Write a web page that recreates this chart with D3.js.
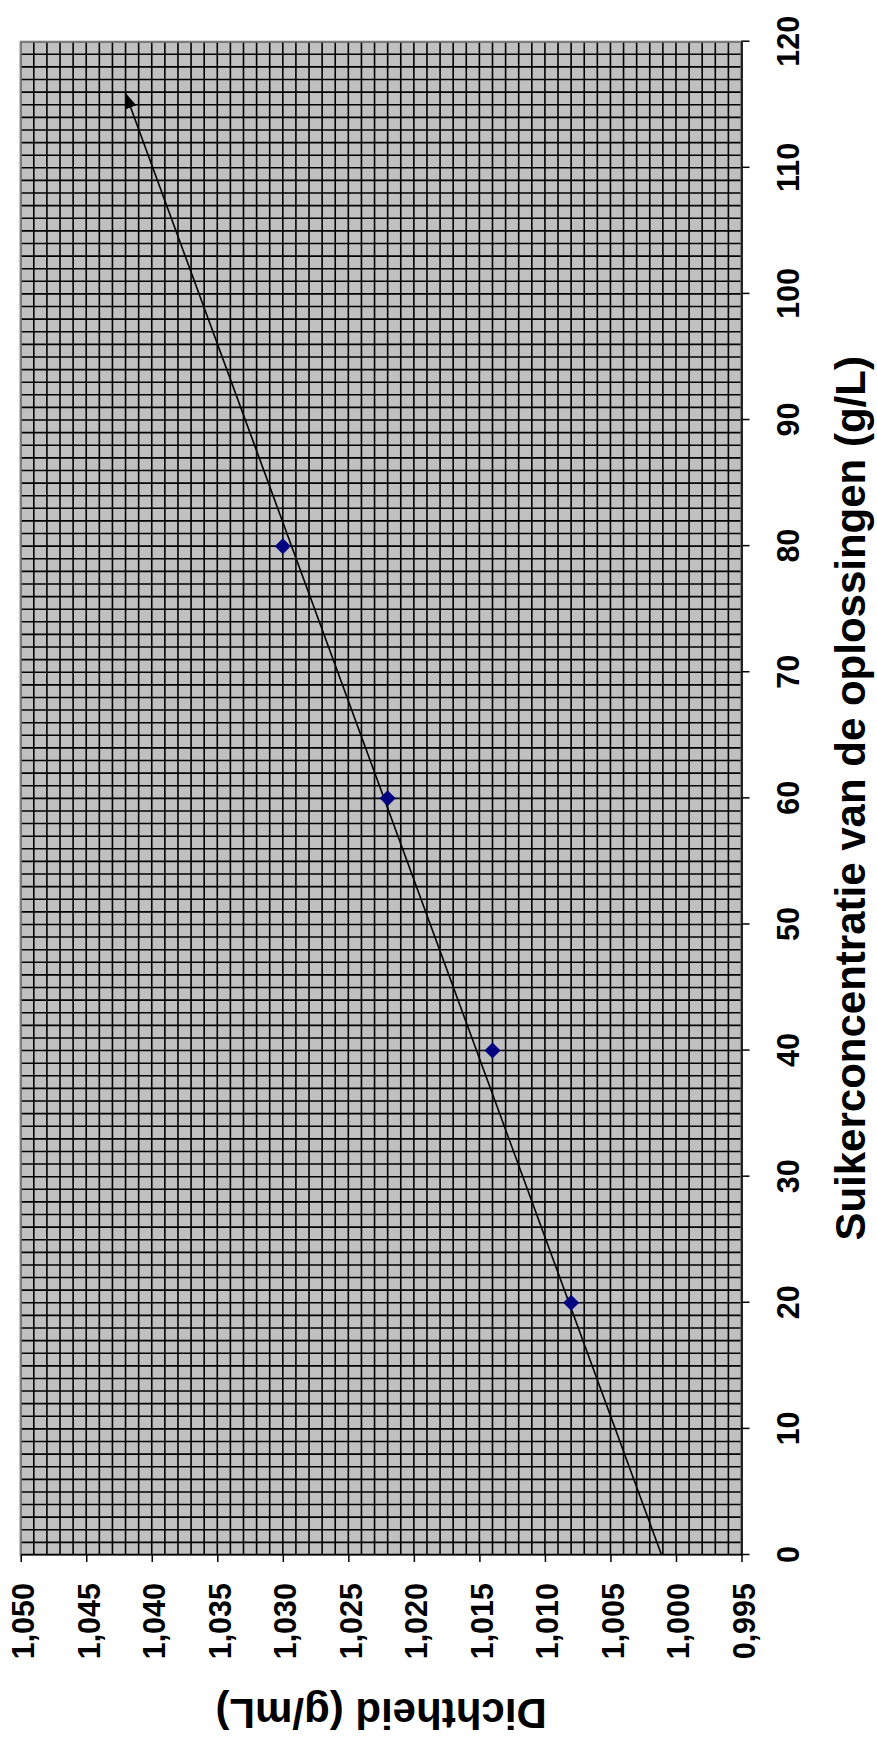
<!DOCTYPE html>
<html>
<head>
<meta charset="utf-8">
<script src="https://cdn.jsdelivr.net/npm/d3@7"></script>
<style>
  html, body { margin: 0; padding: 0; background: #ffffff; }
  svg { display: block; }
  text { font-family: "Liberation Sans", Arial, sans-serif; font-weight: bold; fill: #000; }
</style>
</head>
<body>
<script>
// ---- data ----
const concentration = [20, 40, 60, 80];               // g/L
const density = [1.008, 1.014, 1.022, 1.030];          // g/mL
const trendX = [0, 115.9];                             // hand-drawn trend line ends (g/L)
const trendY = [1.0011, 1.0420];                       // (g/mL)
const xTicks = [0, 10, 20, 30, 40, 50, 60, 70, 80, 90, 100, 110, 120];
const yTicks = [0.995, 1.000, 1.005, 1.010, 1.015, 1.020, 1.025, 1.030, 1.035, 1.040, 1.045, 1.050];
const xTitle = "Suikerconcentratie van de oplossingen (g/L)";
const yTitle = "Dichtheid (g/mL)";

// ---- layout (chart drawn in unrotated frame, then rotated -90deg) ----
const SW = 877, SH = 1744;          // screen size
const plot = { left: 189, right: 1702.3, top: 20.7, bottom: 741.5 };

const svg = d3.select("body").append("svg")
  .attr("width", SW).attr("height", SH);
svg.append("rect").attr("width", SW).attr("height", SH).attr("fill", "#ffffff");

const g = svg.append("g").attr("transform", `translate(0,${SH}) rotate(-90)`);

const x = d3.scaleLinear().domain([0, 120]).range([plot.left, plot.right]);
const y = d3.scaleLinear().domain([0.995, 1.050]).range([plot.bottom, plot.top]);

// plot background
g.append("rect")
  .attr("x", plot.left).attr("y", plot.top)
  .attr("width", plot.right - plot.left).attr("height", plot.bottom - plot.top)
  .attr("fill", "#c0c0c0");

// minor gridlines
const xGrid = d3.range(0, 121, 1);
const yGrid = d3.range(0, 56, 1).map(i => 0.995 + i * 0.001);
g.append("g").selectAll("line").data(xGrid).join("line")
  .attr("x1", d => x(d)).attr("x2", d => x(d))
  .attr("y1", plot.top).attr("y2", plot.bottom)
  .attr("stroke", "#000").attr("stroke-width", 1.6);
g.append("g").selectAll("line").data(yGrid).join("line")
  .attr("x1", plot.left).attr("x2", plot.right)
  .attr("y1", d => y(d)).attr("y2", d => y(d))
  .attr("stroke", "#000").attr("stroke-width", 1.6);

// plot border
g.append("rect")
  .attr("x", plot.left).attr("y", plot.top)
  .attr("width", plot.right - plot.left).attr("height", plot.bottom - plot.top)
  .attr("fill", "none").attr("stroke", "#808080").attr("stroke-width", 2);

// axes
const fmt = d => d3.format(".3f")(d).replace(".", ",");
const xAxis = g.append("g").attr("transform", `translate(0,${plot.bottom})`)
  .call(d3.axisBottom(x).tickValues(xTicks).tickSize(8).tickSizeOuter(0).tickPadding(28).tickFormat(d3.format("d")));
const yAxis = g.append("g").attr("transform", `translate(${plot.left},0)`)
  .call(d3.axisLeft(y).tickValues(yTicks).tickSize(7).tickSizeOuter(0).tickPadding(21).tickFormat(fmt));
[xAxis, yAxis].forEach(a => {
  a.select(".domain").attr("stroke", "#000").attr("stroke-width", 1.5);
  a.selectAll(".tick line").attr("stroke", "#000").attr("stroke-width", 1.5);
  a.selectAll("text").attr("font-size", 30.5).attr("font-weight", "bold")
    .attr("font-family", "Liberation Sans, Arial, sans-serif").attr("fill", "#000");
});
yAxis.selectAll("text").attr("dy", "0.42em");

// titles
g.append("text")
  .attr("x", (plot.left + plot.right) / 2).attr("y", 865)
  .attr("text-anchor", "middle").attr("font-size", 42)
  .text(xTitle);
g.append("text")
  .attr("transform", `translate(45,${(plot.top + plot.bottom) / 2}) rotate(-90)`)
  .attr("text-anchor", "middle").attr("font-size", 42)
  .text(yTitle);

// arrow marker
const defs = svg.append("defs");
defs.append("marker")
  .attr("id", "arrow").attr("markerUnits", "userSpaceOnUse")
  .attr("viewBox", "0 0 16 12").attr("refX", 15).attr("refY", 6)
  .attr("markerWidth", 16).attr("markerHeight", 12).attr("orient", "auto")
  .append("path").attr("d", "M0,0 L16,6 L0,12 Z").attr("fill", "#000");

// trend line
const trend = trendX.map((v, i) => [v, trendY[i]]);
g.append("path")
  .datum(trend)
  .attr("d", d3.line().x(d => x(d[0])).y(d => y(d[1])))
  .attr("fill", "none").attr("stroke", "#000").attr("stroke-width", 1.6)
  .attr("marker-end", "url(#arrow)");

// data markers (diamonds)
const r = 8;
g.append("g").selectAll("path").data(concentration.map((c, i) => [c, density[i]])).join("path")
  .attr("transform", d => `translate(${x(d[0])},${y(d[1])})`)
  .attr("d", `M0,${-r} L${r},0 L0,${r} L${-r},0 Z`)
  .attr("fill", "#000080");
</script>
</body>
</html>
